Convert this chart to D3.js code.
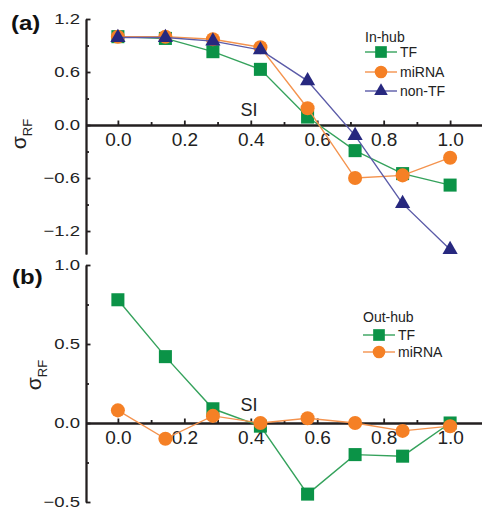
<!DOCTYPE html>
<html>
<head>
<meta charset="utf-8">
<script src="https://cdn.jsdelivr.net/npm/d3@7"></script>
<style>
  html, body { margin: 0; padding: 0; background: #fff; }
  svg { display: block; font-family: "Liberation Sans", Arial, sans-serif; }
</style>
</head>
<body>
<div id="chart"></div>
<script>
// --- values ---
const SI = [0, 0.143, 0.286, 0.429, 0.571, 0.714, 0.857, 1.0];

// (a) In-hub
const inTF    = [1.00, 0.98, 0.83, 0.63, 0.09, -0.29, -0.55, -0.68];
const inMiRNA = [1.00, 1.00, 0.97, 0.88, 0.19, -0.60, -0.57, -0.37];
const inNonTF = [0.99, 0.99, 0.95, 0.85, 0.50, -0.12, -0.89, -1.41];

// (b) Out-hub
const outTF    = [0.78, 0.42, 0.09, -0.02, -0.45, -0.20, -0.21, 0.00];
const outMiRNA = [0.08, -0.10, 0.045, 0.00, 0.03, 0.00, -0.05, -0.02];

const xMajor = [0, 0.2, 0.4, 0.6, 0.8, 1.0];
const xMinor = [0.1, 0.3, 0.5, 0.7, 0.9];
const yMajorA = [-1.2, -0.6, 0, 0.6, 1.2];
const yMinorA = [-0.9, -0.3, 0.3, 0.9];
const yMajorB = [-0.5, 0, 0.5, 1.0];
const yMinorB = [-0.25, 0.25, 0.75];

const STYLE = {
  TF:      { fill: "#0b9347", line: "#35a25c", shape: d3.symbolSquare,   size: 170 },
  miRNA:   { fill: "#f58025", line: "#f4934e", shape: d3.symbolCircle,   size: 155 },
  "non-TF":{ fill: "#27287f", line: "#5b5ba8", shape: d3.symbolTriangle, size: 100 }
};

const W = 482, H = 512;
const svg = d3.select("#chart").append("svg")
  .attr("width", W).attr("height", H);

const x = d3.scaleLinear().domain([-0.096, 1.096]).range([86, 482]);

function panel(opts) {
  const y = d3.scaleLinear().domain(opts.yDomain).range(opts.yRange);
  const g = svg.append("g");
  const y0 = y(0);

  // y axis: minor ticks first, then major with labels
  g.append("g").attr("transform", "translate(86,0)")
    .call(d3.axisLeft(y).tickValues(opts.yMinor).tickSize(-3).tickSizeOuter(0).tickFormat(""));
  const ya = g.append("g").attr("transform", "translate(86,0)")
    .call(d3.axisLeft(y).tickValues(opts.yMajor).tickSize(-4.5).tickSizeOuter(0)
      .tickPadding(6).tickFormat(d3.format(".1f")));
  ya.selectAll("text")
    .attr("font-size", 18.5).attr("fill", "#222")
    .attr("transform", "scale(1,0.8)");

  // x axis through zero
  g.append("g").attr("transform", `translate(0,${y0})`)
    .call(d3.axisBottom(x).tickValues(xMinor).tickSize(-3).tickSizeOuter(0).tickFormat(""));
  const xa = g.append("g").attr("transform", `translate(0,${y0})`)
    .call(d3.axisBottom(x).tickValues(xMajor).tickSize(-4.5).tickSizeOuter(0)
      .tickPadding(7.5).tickFormat(d3.format(".1f")));
  xa.selectAll("text").attr("font-size", 19).attr("fill", "#222");

  g.selectAll(".domain, .tick line")
    .attr("stroke", "#231f20").attr("stroke-width", 1.8);

  // SI label
  g.append("text")
    .attr("x", 249).attr("y", y0 - opts.siGap)
    .attr("text-anchor", "middle")
    .attr("font-size", 18).attr("fill", "#222")
    .text("SI");

  // panel label
  g.append("text")
    .attr("transform", `translate(${opts.tag[0]},${opts.tag[1]}) scale(1,0.85)`)
    .attr("font-size", 24).attr("font-weight", "bold").attr("fill", "#111")
    .text(opts.tagText);

  // y label sigma_RF
  const yl = g.append("text")
    .attr("transform", `translate(${opts.ylab[0]},${opts.ylab[1]}) rotate(-90)`)
    .attr("text-anchor", "middle").attr("fill", "#222");
  yl.append("tspan").attr("font-size", 21).text("σ");
  yl.append("tspan").attr("font-size", 13).attr("dy", 6).text("RF");

  // series
  opts.series.forEach(s => {
    const st = STYLE[s.name];
    const pts = SI.map((v, i) => ({ x: v, y: s.values[i] }));
    g.append("path")
      .datum(pts)
      .attr("fill", "none")
      .attr("stroke", st.line)
      .attr("stroke-width", 1.4)
      .attr("d", d3.line().x(d => x(d.x)).y(d => y(d.y)));
    g.selectAll(null)
      .data(pts)
      .enter()
      .append("path")
      .attr("transform", d => `translate(${x(d.x)},${y(d.y)})`)
      .attr("d", d3.symbol().type(st.shape).size(st.size))
      .attr("fill", st.fill);
  });

  // legend
  const lg = g.append("g");
  lg.append("text")
    .attr("x", opts.leg.x).attr("y", opts.leg.titleY)
    .attr("font-size", 14).attr("fill", "#222")
    .text(opts.leg.title);
  opts.series.forEach((s, i) => {
    const st = STYLE[s.name];
    const ly = opts.leg.rows[i];
    lg.append("line")
      .attr("x1", opts.leg.x).attr("x2", opts.leg.x + 32)
      .attr("y1", ly).attr("y2", ly)
      .attr("stroke", st.line).attr("stroke-width", 1.4);
    lg.append("path")
      .attr("transform", `translate(${opts.leg.x + 16},${ly})`)
      .attr("d", d3.symbol().type(st.shape).size(st.size * 0.8))
      .attr("fill", st.fill);
    lg.append("text")
      .attr("x", opts.leg.x + 35).attr("y", ly)
      .attr("dy", "0.36em")
      .attr("font-size", 14).attr("fill", "#222")
      .text(s.name);
  });
}

panel({
  yDomain: [-1.46, 1.2], yRange: [254, 19],
  yMajor: yMajorA, yMinor: yMinorA,
  siGap: 9,
  tag: [11, 30], tagText: "(a)",
  ylab: [26, 134],
  series: [
    { name: "TF", values: inTF },
    { name: "miRNA", values: inMiRNA },
    { name: "non-TF", values: inNonTF }
  ],
  leg: { x: 365, title: "In-hub", titleY: 42, rows: [52, 72, 91] }
});

panel({
  yDomain: [-0.5, 1.0], yRange: [502, 265],
  yMajor: yMajorB, yMinor: yMinorB,
  siGap: 12,
  tag: [12, 284], tagText: "(b)",
  ylab: [41, 375],
  series: [
    { name: "TF", values: outTF },
    { name: "miRNA", values: outMiRNA }
  ],
  leg: { x: 363, title: "Out-hub", titleY: 322, rows: [335, 352] }
});
</script>
</body>
</html>
